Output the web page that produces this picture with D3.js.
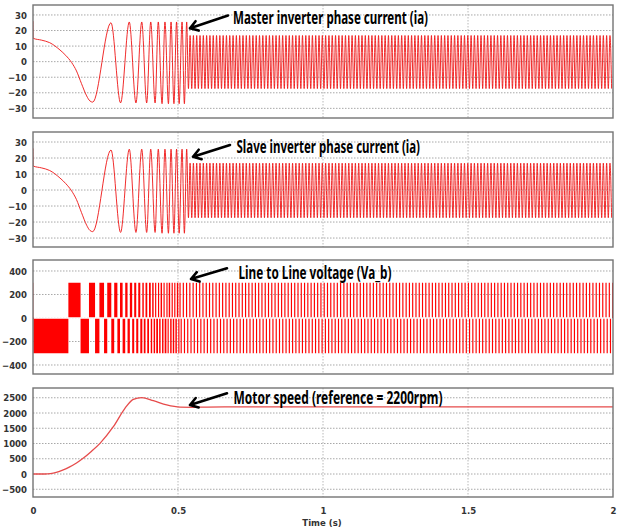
<!DOCTYPE html>
<html><head><meta charset="utf-8">
<script src="https://cdn.jsdelivr.net/npm/d3@7"></script>
<style>body{margin:0;background:#fff} svg{display:block}</style>
</head><body><svg id="c" width="621" height="529"></svg>
<script>
// ---------- data ----------
const xTicks = [0, 0.5, 1, 1.5, 2];
const xTickLabels = ["0", "0.5", "1", "1.5", "2"];
const xVGrid = [0.5, 1, 1.5];
const currentTicks = [30, 20, 10, 0, -10, -20, -30];
const voltageTicks = [400, 200, 0, -200, -400];
const speedTicks = [2500, 2000, 1500, 1000, 500, 0, -500];

// master inverter phase current: start-up shape, then the extrema of the accelerating oscillation
const masterStartT = [0, 0.0006, 0.03, 0.0575, 0.093, 0.113, 0.133, 0.15, 0.167, 0.185, 0.196, 0.206];
const masterStartV = [26, 15, 13.8, 12.2, 7.5, 4.0, -0.5, -6, -14, -22, -25.2, -26];
const masterPeakT = [0.269, 0.302, 0.332, 0.355, 0.375, 0.392, 0.406, 0.421, 0.432, 0.445, 0.455, 0.467, 0.476, 0.486, 0.495, 0.504, 0.514, 0.522, 0.530];
const masterPeakV = [25, -26.5, 25.5, -26.5, 25.5, -26.5, 25.5, -26.5, 25.5, -27, 25.5, -27, 25.5, -27, 25.5, -27, 25.5, -27, 25.5];
// steady-state band (read: starts ~0.536 s, about ±17 A, one spike every ~0.0114 s)
const masterSteady = {start: 0.536, halfPeriod: 0.0057, hi: 16.8, lo: -17.3};

// slave inverter phase current (identical in the picture)
const slaveStartT = [0, 0.0006, 0.03, 0.0575, 0.093, 0.113, 0.133, 0.15, 0.167, 0.185, 0.196, 0.206];
const slaveStartV = [26, 15, 13.8, 12.2, 7.5, 4.0, -0.5, -6, -14, -22, -25.2, -26];
const slavePeakT = [0.269, 0.302, 0.332, 0.355, 0.375, 0.392, 0.406, 0.421, 0.432, 0.445, 0.455, 0.467, 0.476, 0.486, 0.495, 0.504, 0.514, 0.522, 0.530];
const slavePeakV = [25, -26.5, 25.5, -26.5, 25.5, -26.5, 25.5, -26.5, 25.5, -27, 25.5, -27, 25.5, -27, 25.5, -27, 25.5, -27, 25.5];
const slaveSteady = {start: 0.536, halfPeriod: 0.0057, hi: 16.8, lo: -17.3};

// line-to-line voltage: switching instants and level after each instant
const voltEdgeT = [0, 0.001, 0.122, 0.164, 0.193, 0.214, 0.229, 0.245, 0.256, 0.270, 0.280, 0.291, 0.300, 0.309, 0.318, 0.326, 0.334, 0.342, 0.349, 0.356, 0.363, 0.370, 0.377, 0.382, 0.388, 0.394, 0.400, 0.406, 0.411, 0.416, 0.421, 0.425, 0.431, 0.435, 0.440, 0.445, 0.450, 0.454, 0.460, 0.464, 0.468, 0.473, 0.478, 0.482, 0.487, 0.491, 0.496, 0.501];
const voltLevel = [300, -300, 300, -300, 300, -300, 300, -300, 300, -300, 300, -300, 300, -300, 300, -300, 300, -300, 300, -300, 300, -300, 300, -300, 300, -300, 300, -300, 300, -300, 300, -300, 300, -300, 300, -300, 300, -300, 300, -300, 300, -300, 300, -300, 300, -300, 300, -300];
const voltSteady = {start: 0.505, pulse: 0.0040, zero: 0.0033, level: 300};

// motor speed (rpm)
const speedT = [0, 0.04, 0.06, 0.08, 0.1, 0.125, 0.15, 0.175, 0.2, 0.231, 0.277, 0.317, 0.346, 0.375, 0.415, 0.461, 0.507, 0.55, 0.6, 0.7, 2.0];
const speedV = [0, 0, 15, 55, 120, 225, 360, 530, 730, 1006, 1550, 2155, 2450, 2505, 2405, 2263, 2190, 2185, 2195, 2200, 2200];

const labels = ["Master inverter phase current (ia)", "Slave inverter phase current (ia)", "Line to Line voltage (Va_b)", "Motor speed (reference = 2200rpm)"];
const xTitle = "Time (s)";

// ---------- layout ----------
const svg = d3.select("#c");
const X0 = 33, X1 = 613;
const x = d3.scaleLinear().domain([0, 2]).range([X0, X1]);
const panels = [
  {top: 5, bottom: 118, dom: [-36.2, 36.4], ticks: currentTicks},
  {top: 132, bottom: 247, dom: [-35.6, 36.25], ticks: currentTicks},
  {top: 260, bottom: 374, dom: [-476.6, 493.6], ticks: voltageTicks},
  {top: 388, bottom: 497, dom: [-754, 2820], ticks: speedTicks}
];
const tickFont = "'Liberation Sans Narrow','Arial Narrow','DejaVu Sans Condensed',sans-serif";

function buildCurrent(startT, startV, peakT, peakV, st) {
  const pts = startT.map((t, i) => [t, startV[i]]);
  peakT.forEach((t, i) => pts.push([t, peakV[i]]));
  let k = 0;
  for (let t = st.start; t <= 2.0; t += st.halfPeriod, k++) pts.push([t, k % 2 === 0 ? st.lo : st.hi]);
  return pts;
}
function buildVoltage() {
  const pts = voltEdgeT.map((t, i) => [t, voltLevel[i]]);
  for (let t = voltSteady.start; t < 2.0; t += 2 * voltSteady.pulse + voltSteady.zero) {
    pts.push([t, voltSteady.level]);
    pts.push([t + voltSteady.pulse, -voltSteady.level]);
    pts.push([t + 2 * voltSteady.pulse, 0]);
  }
  pts.push([2.0, 0]);
  return pts;
}

panels.forEach((p, i) => {
  p.y = d3.scaleLinear().domain(p.dom).range([p.bottom, p.top]);
  const g = svg.append("g");
  svg.append("clipPath").attr("id", "clip" + i).append("rect")
    .attr("x", X0).attr("y", p.top).attr("width", X1 - X0).attr("height", p.bottom - p.top);
  // grid
  g.selectAll(".hg").data(p.ticks).join("line")
    .attr("x1", X0).attr("x2", X1).attr("y1", d => p.y(d)).attr("y2", d => p.y(d))
    .attr("stroke", "#a8a8a8").attr("stroke-width", 1).attr("stroke-dasharray", "1.5,1.5");
  g.selectAll(".vg").data(xVGrid).join("line")
    .attr("x1", d => x(d)).attr("x2", d => x(d)).attr("y1", p.top).attr("y2", p.bottom)
    .attr("stroke", "#b8b8b8").attr("stroke-width", 1).attr("stroke-dasharray", "1.5,1.5");
  // y axis
  const ax = g.append("g").attr("transform", `translate(${X0},0)`)
    .call(d3.axisLeft(p.y).tickValues(p.ticks).tickSize(0).tickPadding(6).tickFormat(d3.format("d")));
  ax.select(".domain").remove();
  ax.selectAll("text").attr("font-family", tickFont).attr("font-size", 9.5)
    .attr("font-weight", "bold").attr("fill", "#333");
  p.g = g;
});

// data marks
const line = (p) => d3.line().x(d => x(d[0])).y(d => p.y(d[1])).curve(d3.curveMonotoneX);
[[buildCurrent(masterStartT, masterStartV, masterPeakT, masterPeakV, masterSteady), 0],
 [buildCurrent(slaveStartT, slaveStartV, slavePeakT, slavePeakV, slaveSteady), 1]].forEach(([pts, i]) => {
  const p = panels[i];
  p.g.append("path").attr("clip-path", `url(#clip${i})`).attr("d", line(p)(pts))
    .attr("fill", "none").attr("stroke", "#ee1414").attr("stroke-width", 0.9);
});
{
  const p = panels[2];
  const area = d3.area().x(d => x(d[0])).y0(p.y(0)).y1(d => p.y(d[1])).curve(d3.curveStepAfter);
  p.g.append("path").attr("clip-path", "url(#clip2)").attr("d", area(buildVoltage()))
    .attr("fill", "#ff0000").attr("stroke", "none");
  p.g.append("line").attr("x1", X0 + 1).attr("x2", X1 - 1).attr("y1", p.y(0)).attr("y2", p.y(0))
    .attr("stroke", "#fff").attr("stroke-width", 1.4);
}
{
  const p = panels[3];
  const pts = speedT.map((t, i) => [t, speedV[i]]);
  p.g.append("path").attr("clip-path", "url(#clip3)").attr("d", line(p)(pts))
    .attr("fill", "none").attr("stroke", "#e64b4b").attr("stroke-width", 1.3);
}

// frames
panels.forEach(p => {
  svg.append("rect").attr("x", X0).attr("y", p.top).attr("width", X1 - X0).attr("height", p.bottom - p.top)
    .attr("fill", "none").attr("stroke", "#747474").attr("stroke-width", 1.4);
});

// x axis
{
  const p = panels[3];
  const ax = svg.append("g").attr("transform", `translate(0,${p.bottom})`)
    .call(d3.axisBottom(x).tickValues(xTicks).tickSize(0).tickPadding(10).tickFormat((d, i) => xTickLabels[i]));
  ax.select(".domain").remove();
  ax.selectAll("text").attr("font-family", tickFont).attr("font-size", 9.5)
    .attr("font-weight", "bold").attr("fill", "#333");
  svg.append("text").attr("x", 322).attr("y", 526).attr("text-anchor", "middle")
    .attr("font-family", tickFont).attr("font-size", 9.5).attr("font-weight", "bold").attr("fill", "#333")
    .text(xTitle);
}

// annotations
const ann = [
  {tx: 233, ty: 24, len: 195, a: [228, 15.5, 190, 28.3]},
  {tx: 236.5, ty: 153, len: 183.5, a: [230, 145, 193, 156.7]},
  {tx: 238.5, ty: 278.5, len: 153, a: [227, 268.3, 191, 279]},
  {tx: 233.5, ty: 404, len: 209, a: [227, 393.3, 190, 405]}
];
ann.forEach((d, i) => {
  svg.append("text").attr("x", d.tx).attr("y", d.ty).attr("font-family", "'Noto Sans',sans-serif")
    .attr("font-weight", "bold").attr("font-size", 17).attr("fill", "#000")
    .attr("textLength", d.len).attr("lengthAdjust", "spacingAndGlyphs").text(labels[i]);
  const [x1, y1, tx, ty] = d.a;
  const ang = Math.atan2(y1 - ty, x1 - tx), L = 9, w = 0.58;
  const path = `M${x1},${y1}L${tx},${ty}M${tx + L * Math.cos(ang - w)},${ty + L * Math.sin(ang - w)}L${tx},${ty}L${tx + L * Math.cos(ang + w)},${ty + L * Math.sin(ang + w)}`;
  svg.append("path").attr("d", path).attr("fill", "none").attr("stroke", "#000")
    .attr("stroke-width", 2.6).attr("stroke-linecap", "round").attr("stroke-linejoin", "round");
});
</script></body></html>
